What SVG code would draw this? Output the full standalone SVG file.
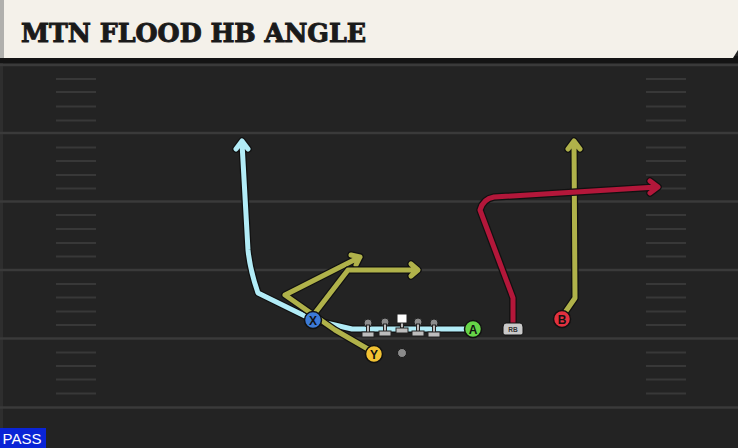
<svg xmlns="http://www.w3.org/2000/svg" xmlns:xlink="http://www.w3.org/1999/xlink" width="738" height="448" viewBox="0 0 738 448">
<style>
.yard{stroke:#3a3a3a;stroke-width:2.5;fill:none}
.hash{stroke:#383838;stroke-width:2;fill:none}
.ol{fill:none;stroke:#111;stroke-width:7.5;stroke-linejoin:round;stroke-linecap:round}
.rt{fill:none;stroke-width:5;stroke-linejoin:round;stroke-linecap:round}
.blue{stroke:#b2ecf7}
.olive{stroke:#b0b24a}
.red{stroke:#b3173a}
.pl{stroke:#111;stroke-width:1.5}
.lt{font-family:"Liberation Sans",Arial,sans-serif;font-weight:bold;font-size:12px;text-anchor:middle;fill:#111}
.ln{fill:#bdbdbd;stroke:#222;stroke-width:1}
.hd{fill:#8c8c8c;stroke:#222;stroke-width:1}
</style>
<defs>
<path id="pA" d="M464,329 L352,329 L313,320 L258,293 Q250,270 248,250 L242,143 M236,149 L242,141 L248,149"/>
<path id="pY" d="M373,352 L335,330 L285,295 L360,257 M351,255 L360,257 L356,265"/>
<path id="pX" d="M315,313 L348,270 L417,270 M411,264 L418,270 L411,276"/>
<path id="pB" d="M566,311 L575,298 L574,142 M568,149 L574,141 L580,149"/>
<path id="pRB" d="M513,323 L513,298 L480,210 Q483,199 494,197 L657,187 M650,181 L658,187 L650,193"/>
</defs>
<rect x="0" y="0" width="738" height="448" fill="#232323"/>
<rect x="0" y="58" width="3" height="390" fill="#2e2e2e"/>
<g id="field">
<line class="yard" x1="0" y1="65" x2="738" y2="65"/>
<line class="yard" x1="0" y1="133" x2="738" y2="133"/>
<line class="yard" x1="0" y1="201.5" x2="738" y2="201.5"/>
<line class="yard" x1="0" y1="270" x2="738" y2="270"/>
<line class="yard" x1="0" y1="338.5" x2="738" y2="338.5"/>
<line class="yard" x1="0" y1="407.5" x2="738" y2="407.5"/>
<path class="hash" d="M56,79H96M56,92H96M56,106.5H96M56,120.5H96M56,147.5H96M56,161H96M56,175H96M56,188.5H96M56,215H96M56,229H96M56,243H96M56,256.5H96M56,284H96M56,297.5H96M56,311.5H96M56,325H96M56,352.5H96M56,366H96M56,379.5H96M56,393.5H96"/>
<path class="hash" d="M646,79H686M646,92H686M646,106.5H686M646,120.5H686M646,147.5H686M646,161H686M646,175H686M646,188.5H686M646,215H686M646,229H686M646,243H686M646,256.5H686M646,284H686M646,297.5H686M646,311.5H686M646,325H686M646,352.5H686M646,366H686M646,379.5H686M646,393.5H686"/>
</g>
<g id="header">
<rect x="0" y="56" width="738" height="7" fill="#141414"/>
<polygon points="0,0 738,0 738,50 733,58 0,58" fill="#f4f1ea"/>
<rect x="0" y="0" width="4" height="58" fill="#b0b0ad"/>
<text x="21" y="42" font-family="DejaVu Serif, serif" font-weight="bold" font-stretch="condensed" font-size="26" fill="#1a1a1a" stroke="#1a1a1a" stroke-width="0.9" textLength="345" lengthAdjust="spacingAndGlyphs">MTN FLOOD HB ANGLE</text>
</g>
<g id="connectors">
<use xlink:href="#pA" class="ol"/><use xlink:href="#pA" class="rt blue"/>
<use xlink:href="#pY" class="ol"/><use xlink:href="#pY" class="rt olive"/>
<use xlink:href="#pX" class="ol"/><use xlink:href="#pX" class="rt olive"/>
<use xlink:href="#pB" class="ol"/><use xlink:href="#pB" class="rt olive"/>
<use xlink:href="#pRB" class="ol"/><use xlink:href="#pRB" class="rt red"/>
</g>
<g id="line">
<g id="lt1"><circle class="hd" cx="368" cy="323" r="4"/><rect class="ln" x="366.5" y="325" width="3" height="8"/><rect class="ln" x="362" y="332" width="12" height="5"/></g>
<g id="lg1"><circle class="hd" cx="385" cy="322" r="4"/><rect class="ln" x="383.5" y="324" width="3" height="8"/><rect class="ln" x="379" y="331" width="12" height="5"/></g>
<g id="c"><rect class="ln" x="400.5" y="320" width="3" height="8"/><rect class="ln" x="396" y="328" width="12" height="5"/><rect x="397" y="314" width="10" height="9" fill="#fff" stroke="#222" stroke-width="1"/></g>
<g id="rg1"><circle class="hd" cx="418" cy="322" r="4"/><rect class="ln" x="416.5" y="324" width="3" height="8"/><rect class="ln" x="412" y="331" width="12" height="5"/></g>
<g id="rt1"><circle class="hd" cx="434" cy="323" r="4"/><rect class="ln" x="432.5" y="325" width="3" height="8"/><rect class="ln" x="428" y="332" width="12" height="5"/></g>
</g>
<g id="qb"><circle cx="402" cy="353" r="4.5" fill="#8a8a8a" stroke="#1a1a1a" stroke-width="1"/></g>
<g id="X"><circle class="pl" cx="313" cy="320" r="8.5" fill="#3c7ad6"/><text class="lt" x="313" y="324.5">X</text></g>
<g id="Y"><circle class="pl" cx="374" cy="354" r="8.5" fill="#f2c233"/><text class="lt" x="374" y="358.5">Y</text></g>
<g id="A"><circle class="pl" cx="473" cy="329" r="8.5" fill="#66d447"/><text class="lt" x="473" y="333.5">A</text></g>
<g id="B"><circle class="pl" cx="562" cy="319" r="8.5" fill="#e2313f"/><text class="lt" x="562" y="323.5">B</text></g>
<g id="RB"><path d="M506,323 H520 Q523,323 523,327 V333 Q523,335 521,335 H505 Q503,335 503,333 V327 Q503,323 506,323 Z" fill="#c9c9c9" stroke="#111" stroke-width="1"/><text x="513" y="332" font-family="'Liberation Sans',Arial,sans-serif" font-size="6.5" font-weight="bold" fill="#333" text-anchor="middle">RB</text></g>
<g id="pass"><rect x="0" y="428" width="46" height="20" fill="#0a24d6"/><text x="22" y="444" font-family="'Liberation Sans',Arial,sans-serif" font-size="15" fill="#fff" text-anchor="middle">PASS</text></g>
</svg>
